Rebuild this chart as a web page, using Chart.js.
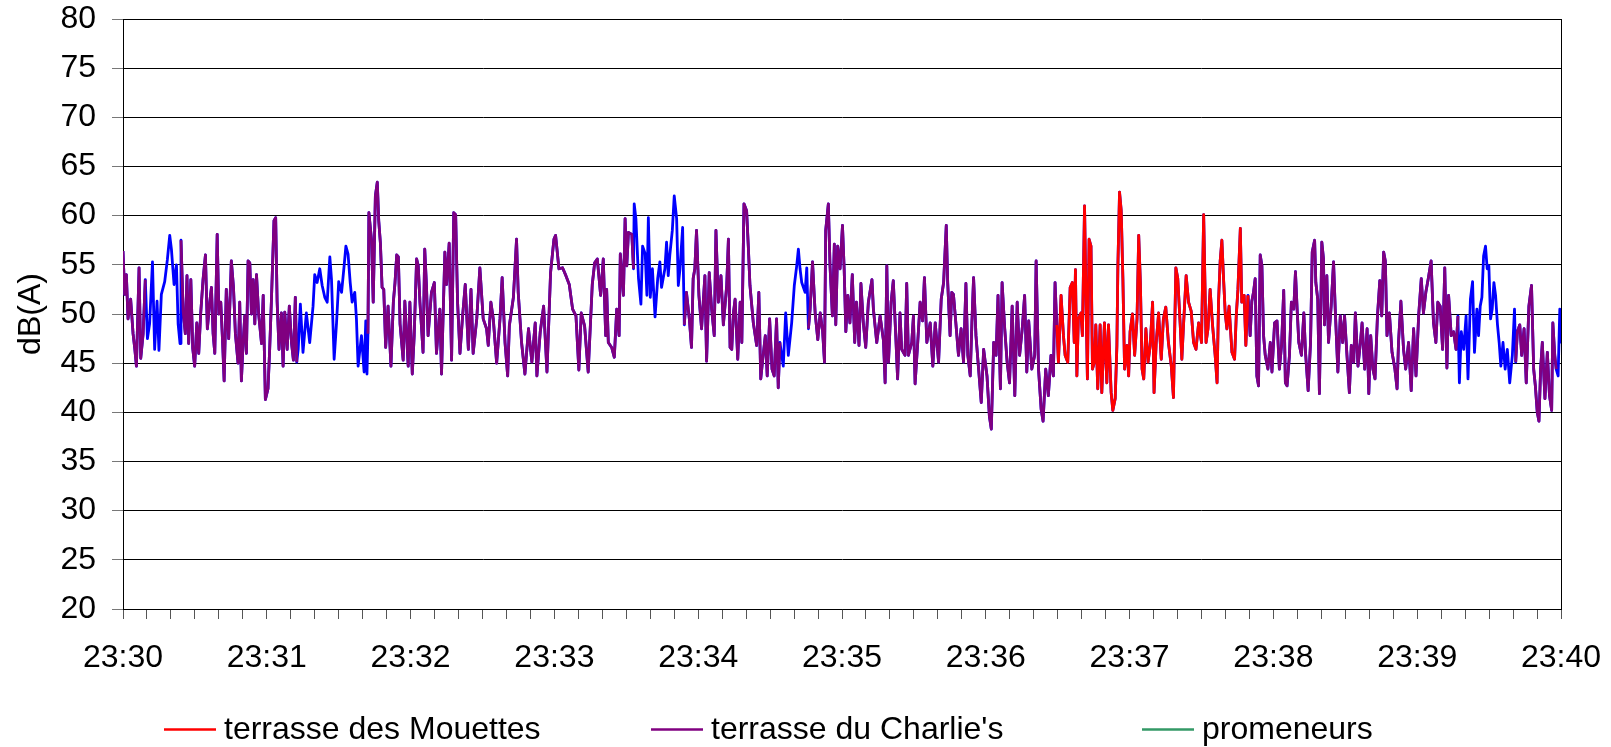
<!doctype html>
<html>

<head>
  <title>dB(A) 23:30 - 23:40</title>
  <script src="https://cdn.jsdelivr.net/npm/chart.js@4/dist/chart.umd.min.js"></script>
  <style>
    html, body { margin: 0; padding: 0; background: #fff; }
    #container { width: 1611px; height: 747px; }
  </style>
</head>

<body>
<div id="container">
  <canvas id="canvas" width="1611" height="747"></canvas>
</div>
<script>
  // seconds after 23:30:00, and the level read at that second
  var seconds = [
    0.0, 0.7, 1.4, 2.1, 3.2, 4.2, 4.9, 5.6, 6.7, 7.4, 8.4, 9.3, 10.2, 11.1, 12.3, 13.2, 14.2, 15.0, 16.0, 17.4,
    18.5, 19.5, 20.2, 21.3, 22.3, 23.0, 23.8, 24.2, 25.1, 26.0, 26.7, 27.4, 28.3, 29.1, 29.9, 30.8, 31.6, 32.4, 33.4, 34.4,
    35.2, 36.2, 36.9, 37.6, 38.3, 39.3, 40.0, 40.8, 41.5, 42.2, 43.1, 44.1, 45.2, 46.1, 46.9, 48.0, 48.7, 49.4, 50.1, 50.8,
    51.5, 52.2, 52.9, 53.6, 54.3, 55.0, 55.7, 56.6, 57.8, 58.5, 59.4, 60.5, 61.2, 61.9, 63.0, 63.7, 64.3, 65.1, 66.1, 66.8,
    67.5, 68.5, 69.4, 70.3, 71.1, 71.9, 72.5, 73.1, 74.0, 75.1, 76.5, 77.9, 79.3, 80.0, 81.0, 82.1, 83.1, 84.2, 85.2, 86.3,
    87.0, 88.1, 89.1, 90.0, 91.2, 92.3, 93.0, 93.9, 94.8, 95.6, 96.7, 97.4, 98.1, 99.5, 100.6, 101.3, 101.8, 102.2, 102.6, 103.7,
    104.4, 105.3, 106.1, 106.7, 107.4, 108.1, 108.8, 109.6, 110.6, 111.8, 112.8, 113.5, 114.2, 114.9, 115.6, 116.9, 117.6, 119.0, 119.7, 120.7,
    121.5, 122.5, 123.2, 123.9, 125.2, 125.9, 126.6, 127.3, 128.7, 129.9, 130.8, 132.2, 132.9, 134.3, 135.0, 136.1, 137.1, 138.0, 138.8, 139.6,
    140.6, 141.7, 142.8, 144.1, 145.2, 146.1, 147.6, 148.9, 150.3, 151.7, 152.4, 153.5, 154.5, 155.9, 157.3, 158.2, 159.4, 160.5, 161.2, 162.9,
    164.2, 164.9, 166.3, 167.7, 169.2, 170.6, 172.0, 172.7, 174.1, 175.5, 176.9, 178.4, 179.8, 180.5, 181.9, 183.4, 184.8, 186.2, 187.6, 189.0,
    190.2, 191.2, 192.6, 194.1, 195.8, 196.8, 197.9, 199.3, 200.4, 201.4, 201.8, 202.5, 203.9, 205.0, 206.0, 207.0, 207.5, 208.8, 209.5, 210.2,
    210.9, 212.3, 213.0, 213.3, 214.0, 215.1, 216.1, 216.8, 217.9, 218.6, 219.2, 220.0, 220.9, 222.0, 223.1, 224.0, 224.7, 226.1, 226.8, 227.5,
    228.2, 229.2, 230.0, 231.0, 231.7, 232.4, 233.5, 234.2, 235.1, 236.3, 237.2, 237.9, 238.6, 239.3, 240.3, 241.4, 242.8, 243.5, 244.6, 245.6,
    246.7, 247.4, 248.4, 249.5, 250.5, 251.9, 252.6, 253.3, 254.0, 254.7, 255.4, 256.5, 257.5, 258.2, 259.1, 260.2, 260.9, 261.6, 263.0, 264.4,
    265.3, 266.1, 267.1, 268.0, 268.8, 269.8, 270.8, 271.7, 272.7, 273.4, 274.1, 275.5, 276.5, 277.6, 279.0, 280.1, 281.1, 281.8, 282.5, 283.2,
    284.6, 285.3, 286.0, 286.7, 287.7, 288.8, 289.9, 290.9, 291.9, 292.7, 293.2, 294.3, 295.0, 296.0, 296.8, 297.4, 298.2, 299.2, 300.2, 300.9,
    301.6, 302.4, 303.3, 304.3, 305.3, 306.0, 307.1, 307.9, 308.9, 309.9, 311.0, 312.5, 313.1, 314.5, 315.9, 317.3, 318.0, 318.7, 319.4, 320.5,
    321.4, 322.3, 323.2, 324.2, 324.9, 326.3, 327.0, 327.7, 329.1, 329.8, 330.5, 331.6, 332.6, 333.6, 334.4, 335.4, 336.8, 337.9, 338.9, 340.3,
    341.4, 342.4, 343.5, 344.1, 345.1, 345.8, 346.5, 347.5, 348.6, 349.7, 350.7, 351.7, 352.5, 353.5, 354.2, 354.9, 355.9, 357.0, 358.1, 359.1,
    360.5, 361.5, 362.3, 363.3, 364.3, 365.1, 366.1, 366.8, 367.9, 368.9, 369.9, 371.0, 372.1, 373.1, 374.1, 375.2, 376.2, 377.1, 377.9, 379.2,
    380.4, 381.0, 382.0, 383.1, 383.9, 385.0, 386.1, 387.2, 388.2, 388.9, 389.6, 390.3, 391.4, 392.4, 393.1, 394.2, 395.2, 396.1, 396.9, 397.4,
    398.0, 398.6, 399.7, 400.3, 401.2, 401.9, 402.4, 403.1, 403.9, 404.5, 405.3, 405.9, 406.7, 407.7, 408.4, 409.5, 410.5, 411.2, 412.3, 413.0,
    414.0, 414.7, 415.1, 415.8, 416.5, 417.2, 417.9, 418.9, 419.6, 420.2, 421.2, 422.1, 423.1, 423.8, 424.5, 425.2, 425.9, 426.8, 427.7, 428.6,
    429.6, 430.2, 431.1, 432.1, 433.2, 434.1, 435.1, 436.2, 437.4, 438.3, 439.3, 440.1, 441.1, 441.8, 442.5, 443.6, 444.6, 445.7, 446.7, 447.7,
    448.8, 450.0, 450.9, 451.9, 452.7, 453.6, 454.6, 455.7, 456.5, 457.1, 457.8, 458.5, 459.2, 459.9, 460.6, 461.5, 462.7, 463.8, 464.5, 465.2,
    466.2, 466.8, 467.8, 468.5, 469.4, 470.3, 471.0, 471.7, 472.4, 473.1, 473.8, 474.5, 475.2, 475.9, 476.6, 477.7, 478.7, 479.4, 480.5, 481.5,
    482.5, 483.4, 484.3, 485.0, 485.7, 486.7, 487.5, 488.5, 489.2, 489.9, 490.6, 491.7, 492.7, 493.4, 494.5, 495.5, 496.2, 497.2, 497.7, 498.5,
    499.2, 500.2, 500.9, 501.3, 502.3, 503.0, 504.1, 505.1, 505.8, 506.9, 507.9, 508.9, 509.7, 510.7, 511.7, 512.5, 513.5, 514.2, 515.3, 516.3,
    517.0, 518.1, 519.1, 519.8, 520.6, 521.5, 522.4, 523.4, 524.4, 525.2, 526.0, 526.7, 527.4, 528.4, 529.5, 530.7, 531.6, 532.2, 533.2, 534.3,
    535.2, 536.4, 537.5, 538.5, 539.5, 540.6, 541.7, 542.6, 543.6, 544.7, 545.8, 546.8, 547.8, 548.6, 549.6, 550.6, 551.5, 552.4, 553.1, 554.2,
    555.2, 556.2, 557.0, 557.6, 558.4, 559.4, 560.4, 561.2, 562.2, 563.1, 563.9, 564.9, 565.6, 566.3, 567.0, 567.7, 568.5, 569.2, 569.9, 570.6,
    571.3, 572.0, 572.7, 573.5, 574.2, 574.9, 575.8, 576.7, 577.6, 578.6, 579.7, 580.6, 581.1, 581.8, 582.8, 583.6, 584.6, 585.5, 586.6, 587.7,
    588.6, 589.3, 590.1, 590.8, 591.5, 592.2, 593.3, 594.3, 595.2, 596.1, 596.6, 597.4, 598.0, 598.8, 599.5, 600.0
  ];

  var levels = [
    56.4, 52.0, 54.0, 49.5, 51.5, 48.0, 46.5, 44.7, 54.7, 45.5, 48.0, 53.5, 47.5, 49.0, 55.3, 46.4, 51.3, 46.3, 52.0, 53.3,
    55.5, 58.0, 56.6, 53.0, 55.0, 49.0, 47.0, 57.5, 50.3, 48.0, 53.9, 47.0, 53.5, 46.5, 44.7, 49.1, 46.0, 50.0, 53.5, 56.0,
    48.5, 51.2, 52.7, 48.0, 46.0, 58.1, 50.0, 51.2, 47.5, 43.2, 52.5, 47.5, 55.4, 52.7, 48.0, 45.0, 51.2, 43.2, 47.0, 49.8,
    46.0, 55.4, 55.2, 50.0, 53.5, 49.0, 54.0, 50.0, 47.0, 51.9, 41.3, 42.4, 46.4, 51.2, 59.5, 59.8, 51.3, 46.4, 50.1, 44.7,
    50.2, 46.4, 50.8, 47.1, 45.3, 51.7, 45.1, 46.4, 51.0, 46.1, 50.1, 47.1, 50.8, 54.0, 53.2, 54.6, 52.9, 51.7, 51.2, 55.8,
    53.5, 45.4, 49.1, 53.3, 52.2, 55.0, 56.9, 56.1, 53.2, 51.2, 52.2, 49.5, 44.7, 47.8, 44.1, 49.3, 43.9, 48.0, 60.3, 57.5,
    51.2, 62.0, 63.4, 59.5, 57.2, 52.7, 52.5, 46.6, 50.8, 44.7, 51.2, 53.2, 56.0, 55.8, 49.0, 45.3, 51.3, 44.7, 51.2, 43.9,
    47.8, 55.6, 54.9, 51.2, 46.1, 56.6, 53.0, 47.8, 52.2, 53.2, 46.0, 50.5, 43.9, 56.3, 53.0, 57.2, 45.3, 60.3, 60.1, 51.2,
    46.0, 49.8, 53.0, 46.4, 52.5, 46.0, 49.5, 54.7, 49.5, 48.5, 46.8, 51.2, 49.5, 45.0, 49.5, 53.7, 47.1, 43.7, 48.8, 51.7,
    57.6, 52.2, 47.1, 43.9, 48.5, 45.1, 49.1, 43.7, 48.2, 50.8, 44.1, 54.2, 57.6, 58.0, 54.6, 54.7, 53.9, 53.0, 50.5, 49.8,
    44.3, 50.1, 48.8, 44.1, 53.0, 55.2, 55.6, 51.9, 55.6, 47.8, 52.5, 47.1, 46.6, 45.6, 50.5, 47.8, 56.1, 51.9, 59.7, 54.9,
    58.3, 58.1, 54.6, 61.2, 59.7, 53.6, 51.0, 56.9, 56.1, 51.9, 59.8, 51.7, 54.6, 49.7, 53.6, 55.3, 52.7, 54.6, 57.3, 53.9,
    56.1, 58.5, 62.0, 59.7, 52.9, 54.6, 58.8, 48.9, 52.2, 49.5, 46.6, 53.6, 54.6, 58.5, 51.9, 48.5, 53.9, 45.2, 54.2, 50.5,
    47.8, 58.5, 51.2, 53.9, 48.9, 52.9, 57.6, 46.6, 46.4, 50.1, 51.5, 45.4, 51.2, 47.1, 61.2, 60.5, 56.9, 52.9, 49.1, 46.8,
    52.2, 43.4, 45.8, 47.8, 43.7, 49.5, 44.4, 43.7, 49.5, 42.5, 47.1, 44.7, 50.1, 45.8, 49.1, 52.9, 54.9, 56.6, 54.6, 53.2,
    52.2, 54.7, 48.5, 50.5, 55.3, 50.1, 47.4, 50.1, 48.3, 45.1, 58.5, 61.2, 54.9, 49.8, 57.1, 48.9, 56.9, 54.6, 59.0, 54.6,
    48.2, 51.9, 49.1, 54.0, 47.1, 51.2, 46.8, 53.1, 49.1, 46.6, 51.2, 53.5, 50.5, 47.1, 49.8, 47.3, 43.0, 54.9, 45.1, 51.2,
    53.4, 48.5, 43.4, 50.1, 46.4, 45.8, 53.1, 45.8, 47.1, 49.8, 42.9, 47.1, 51.2, 49.3, 53.7, 47.1, 49.1, 44.7, 49.1, 45.1,
    51.5, 53.2, 59.0, 53.2, 47.8, 52.2, 52.0, 49.1, 45.8, 48.5, 45.1, 53.1, 45.8, 43.7, 49.1, 53.7, 47.8, 44.4, 41.0, 46.4,
    43.7, 39.6, 38.3, 47.1, 45.8, 51.9, 42.4, 53.2, 48.5, 45.1, 43.0, 50.8, 41.7, 51.2, 45.8, 48.5, 51.9, 44.1, 49.3, 44.4,
    45.8, 55.4, 44.4, 40.3, 39.1, 44.4, 41.7, 45.8, 43.7, 53.2, 48.9, 45.1, 51.9, 47.8, 45.8, 45.1, 52.7, 53.2, 47.1, 54.5,
    43.7, 49.5, 50.1, 47.8, 61.0, 50.1, 43.4, 57.6, 56.9, 44.4, 45.1, 48.9, 42.4, 48.9, 42.0, 49.1, 43.0, 48.9, 42.0, 40.2,
    41.4, 46.8, 54.7, 62.4, 60.5, 53.6, 44.4, 46.8, 43.7, 48.2, 50.0, 45.8, 49.5, 58.0, 53.2, 44.4, 43.4, 48.5, 45.1, 46.8,
    51.2, 42.0, 47.1, 50.1, 45.4, 49.5, 50.7, 47.1, 44.7, 41.5, 54.7, 53.6, 49.0, 45.4, 48.9, 53.9, 51.2, 50.3, 47.1, 46.4,
    49.1, 47.1, 60.1, 47.1, 48.5, 52.5, 48.9, 45.8, 43.0, 51.2, 55.4, 57.5, 53.6, 50.1, 48.5, 50.8, 46.1, 45.4, 49.8, 52.5,
    58.7, 51.2, 51.9, 46.8, 51.9, 47.8, 51.3, 52.2, 53.6, 43.7, 42.7, 56.0, 54.9, 47.8, 45.8, 44.4, 47.1, 44.1, 49.1, 49.3,
    44.4, 46.8, 52.4, 43.0, 42.7, 45.8, 51.2, 50.5, 54.3, 50.5, 47.1, 45.8, 50.1, 46.1, 42.2, 47.1, 56.3, 57.5, 53.2, 51.5,
    41.9, 57.3, 55.6, 48.9, 53.9, 47.1, 50.8, 55.3, 50.5, 44.1, 49.8, 47.1, 49.8, 45.8, 42.0, 46.8, 45.1, 50.1, 44.7, 47.1,
    49.1, 44.4, 48.5, 41.9, 47.8, 44.4, 43.4, 49.7, 53.4, 49.8, 56.3, 55.4, 47.8, 50.1, 46.1, 44.4, 42.4, 47.1, 51.3, 46.4,
    44.4, 47.1, 42.2, 48.5, 43.7, 49.8, 53.6, 50.1, 52.2, 53.7, 55.4, 49.1, 47.1, 51.2, 50.8, 46.4, 54.7, 44.5, 51.9, 47.8,
    48.2, 46.4, 49.8, 43.0, 48.2, 46.4, 49.8, 43.4, 51.5, 53.3, 46.1, 50.5, 47.8, 50.8, 51.7, 55.9, 56.9, 54.6, 54.9, 49.5,
    50.5, 53.2, 51.9, 48.9, 47.1, 44.7, 47.1, 44.4, 46.4, 43.0, 45.8, 50.5, 45.1, 48.2, 48.9, 45.8, 48.5, 43.0, 50.8, 52.9,
    44.4, 42.7, 40.0, 39.1, 44.4, 47.1, 41.4, 46.1, 41.7, 40.2, 49.1, 45.8, 44.4, 43.7, 50.5, 47.0
  ];

  // stretches of time attributed to each source (seconds after 23:30:00)
  var mouettesRanges = [[389.6, 469.4]];
  var charlieRanges = [[0, 9.3], [24.2, 72.5], [102.2, 213.0], [234.2, 274.1], [286.0, 389.6], [469.4, 557.0], [581.1, 598.0]];
  var promeneursLevels = [];

  var minuteLabels = ['23:30', '23:31', '23:32', '23:33', '23:34', '23:35', '23:36', '23:37', '23:38', '23:39', '23:40'];

  var FONT = '"Liberation Sans", Arial, sans-serif';

  function pick(ranges) {
    return seconds.map(function (s, i) {
      var inside = ranges.some(function (r) { return s >= r[0] && s <= r[1]; });
      return { x: s, y: inside ? levels[i] : null };
    });
  }

  var allPoints = seconds.map(function (s, i) { return { x: s, y: levels[i] }; });

  // legend row drawn under the axis, one line + label per named source
  var legendRow = {
    id: 'legendRow',
    afterDraw: function (chart) {
      var ctx = chart.ctx;
      var y = 729.5;
      var xs = [164, 651, 1142];
      chart.data.datasets.slice(0, 3).forEach(function (ds, i) {
        ctx.save();
        ctx.strokeStyle = ds.borderColor;
        ctx.lineWidth = 2.5;
        ctx.beginPath();
        ctx.moveTo(xs[i], y);
        ctx.lineTo(xs[i] + 52, y);
        ctx.stroke();
        ctx.fillStyle = '#000';
        ctx.font = '32px ' + FONT;
        ctx.textBaseline = 'middle';
        ctx.fillText(ds.label, xs[i] + 60, y + 1);
        ctx.restore();
      });
    }
  };

  window.onload = function () {
    var ctx = document.getElementById('canvas').getContext('2d');
    window.myLine = new Chart(ctx, {
      type: 'line',
      data: {
        datasets: [{
          label: 'terrasse des Mouettes',
          data: pick(mouettesRanges),
          borderColor: '#FF0000',
          borderWidth: 2.8
        }, {
          label: "terrasse du Charlie's",
          data: pick(charlieRanges),
          borderColor: '#800080',
          borderWidth: 2.8
        }, {
          label: 'promeneurs',
          data: promeneursLevels,
          borderColor: '#339966',
          borderWidth: 2.8
        }, {
          label: 'mesure',
          data: allPoints,
          borderColor: '#0000FF',
          borderWidth: 2.8
        }]
      },
      options: {
        responsive: false,
        animation: false,
        spanGaps: false,
        elements: {
          point: { radius: 0 },
          line: { tension: 0, borderJoinStyle: 'round' }
        },
        layout: {
          padding: { top: 19, right: 50, left: 0, bottom: 0 }
        },
        plugins: {
          legend: { display: false },
          tooltip: { enabled: false }
        },
        scales: {
          x: {
            type: 'linear',
            min: 0,
            max: 600,
            afterFit: function (s) {
              s.height = 138;
              s.paddingLeft = 0;
              s.paddingRight = 0;
            },
            border: { display: true, color: '#000', width: 1 },
            grid: {
              drawOnChartArea: true,
              tickLength: 10,
              tickColor: '#555',
              color: function (c) {
                return c.tick && c.tick.value === 600 ? '#000' : 'rgba(0,0,0,0)';
              }
            },
            ticks: {
              stepSize: 10,
              autoSkip: false,
              maxRotation: 0,
              padding: 20,
              color: '#000',
              font: { size: 32, family: FONT },
              callback: function (v) {
                return v % 60 === 0 ? minuteLabels[v / 60] : '';
              }
            }
          },
          y: {
            min: 20,
            max: 80,
            afterFit: function (s) {
              s.width = 123;
              s.paddingTop = 0;
              s.paddingBottom = 0;
            },
            border: { display: true, color: '#000', width: 1 },
            grid: {
              color: '#000',
              lineWidth: 1,
              tickLength: 11,
              tickColor: '#777'
            },
            ticks: {
              stepSize: 5,
              padding: 16,
              color: '#000',
              font: { size: 32, family: FONT }
            },
            title: {
              display: true,
              text: 'dB(A)',
              color: '#000',
              font: { size: 32, family: FONT },
              padding: { top: 12, bottom: 0 }
            }
          }
        }
      },
      plugins: [legendRow]
    });
  };
</script>
</body>

</html>
